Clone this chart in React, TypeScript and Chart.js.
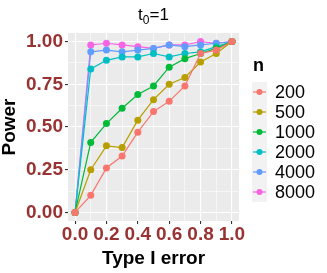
import React, { useEffect, useRef } from "react";
import { Chart, registerables } from "chart.js";

Chart.register(...registerables);

const typeIError = [0, 0.1, 0.2, 0.3, 0.4, 0.5, 0.6, 0.7, 0.8, 0.9, 1.0];
const nLabels = ["200", "500", "1000", "2000", "4000", "8000"];
const power200 = [0, 0.1, 0.26, 0.33, 0.47, 0.59, 0.65, 0.74, 0.93, 0.95, 1];
const power500 = [0, 0.25, 0.39, 0.38, 0.54, 0.66, 0.75, 0.79, 0.88, 0.93, 1];
const power1000 = [0, 0.41, 0.52, 0.61, 0.69, 0.74, 0.85, 0.9, 0.93, 0.96, 1];
const power2000 = [0, 0.84, 0.89, 0.91, 0.91, 0.93, 0.91, 0.93, 0.94, 0.97, 1];
const power4000 = [0, 0.94, 0.95, 0.94, 0.95, 0.96, 0.98, 0.97, 0.98, 0.99, 1];
const power8000 = [0, 0.98, 0.99, 0.98, 0.97, 0.96, 0.98, 0.98, 1.0, 0.99, 1];
const seriesColors = ["#F8766D", "#B79F00", "#00BA38", "#00BFC4", "#619CFF", "#F564E3"];
const allPower = [power200, power500, power1000, power2000, power4000, power8000];

const FONT = "'Liberation Sans', Arial, sans-serif";
const TICK_COLOR = "#993333";

const overlayPlugin = {
  id: "overlay",
  afterDraw(chart: any) {
    const ctx = chart.ctx;
    ctx.save();
    ctx.fillStyle = "#000";
    ctx.textBaseline = "alphabetic";
    ctx.textAlign = "left";
    const cx = (chart.chartArea.left + chart.chartArea.right) / 2;
    ctx.font = `17px ${FONT}`;
    const wT = ctx.measureText("t").width;
    const wEq = ctx.measureText("=1").width;
    ctx.font = `12px ${FONT}`;
    const w0 = ctx.measureText("0").width;
    const total = wT + w0 + wEq;
    let x = cx - total / 2;
    const base = 20;
    ctx.font = `17px ${FONT}`;
    ctx.fillText("t", x, base);
    x += wT;
    ctx.font = `12px ${FONT}`;
    ctx.fillText("0", x, base + 4);
    x += w0;
    ctx.font = `17px ${FONT}`;
    ctx.fillText("=1", x, base);

    const lx = 252;
    const keyW = 15;
    ctx.font = `bold 18px ${FONT}`;
    ctx.fillText("n", lx + 1, 71);
    const top = 82;
    const step = 20;
    ctx.fillStyle = "#F2F2F2";
    ctx.fillRect(lx, top, keyW, step * nLabels.length);
    nLabels.forEach((lab, i) => {
      const cy = top + step * i + step / 2;
      ctx.strokeStyle = seriesColors[i];
      ctx.lineWidth = 1.2;
      ctx.beginPath();
      ctx.moveTo(lx + 1, cy);
      ctx.lineTo(lx + keyW - 1, cy);
      ctx.stroke();
      ctx.fillStyle = seriesColors[i];
      ctx.beginPath();
      ctx.arc(lx + keyW / 2, cy, 3, 0, Math.PI * 2);
      ctx.fill();
      ctx.fillStyle = "#000";
      ctx.font = `18px ${FONT}`;
      ctx.textBaseline = "middle";
      ctx.fillText(lab, 275, cy + 1);
    });
    ctx.restore();
  },
};

export default function App() {
  const ref = useRef<HTMLCanvasElement>(null);
  useEffect(() => {
    if (!ref.current) return;
    const chart = new Chart(ref.current, {
      type: "line",
      data: {
        datasets: nLabels.map((lab, i) => ({
          label: lab,
          data: typeIError.map((t, j) => ({ x: t, y: allPower[i][j] })),
          borderColor: seriesColors[i],
          backgroundColor: seriesColors[i],
          borderWidth: 1.2,
          pointRadius: 3.5,
          pointBorderWidth: 0,
          tension: 0,
        })),
      },
      options: {
        responsive: false,
        animation: false,
        events: [],
        layout: { padding: { left: 0, right: 88, top: 33, bottom: 0 } },
        plugins: {
          legend: { display: false },
          title: { display: false },
          tooltip: { enabled: false },
        },
        scales: {
          x: {
            type: "linear",
            min: -0.045,
            max: 1.045,
            afterBuildTicks: (s: any) => {
              s.ticks = typeIError.map((v) => ({ value: v }));
            },
            afterFit: (s: any) => {
              s.height = 52;
            },
            border: { display: false },
            grid: {
              color: "#FFFFFF",
              lineWidth: (c: any) => (Math.round(c.tick.value * 10) % 2 === 0 ? 1.1 : 0.55),
              tickColor: (c: any) => (Math.round(c.tick.value * 10) % 2 === 0 ? "#333333" : "rgba(0,0,0,0)"),
              tickLength: 3,
              drawTicks: true,
            },
            ticks: {
              autoSkip: false,
              maxRotation: 0,
              padding: 0,
              color: TICK_COLOR,
              font: { family: FONT, size: 19, weight: "bold", lineHeight: 1.1 },
              callback: (v: any) => {
                const k = Math.round(Number(v) * 10);
                return k % 2 === 0 ? (k / 10).toFixed(1) : "";
              },
            },
            title: {
              display: true,
              text: "Type I error",
              color: "#000",
              font: { family: FONT, size: 19, weight: "bold", lineHeight: 1.1 },
              padding: { top: 0, bottom: 4 },
            },
          },
          y: {
            type: "linear",
            min: -0.05,
            max: 1.05,
            afterBuildTicks: (s: any) => {
              const t = [];
              for (let k = 0; k <= 8; k++) t.push({ value: k * 0.125 });
              s.ticks = t;
            },
            afterFit: (s: any) => {
              s.width = 68;
            },
            border: { display: false },
            grid: {
              color: "#FFFFFF",
              lineWidth: (c: any) => (Math.round(c.tick.value * 8) % 2 === 0 ? 1.1 : 0.55),
              tickColor: (c: any) => (Math.round(c.tick.value * 8) % 2 === 0 ? "#333333" : "rgba(0,0,0,0)"),
              tickLength: 3,
            },
            ticks: {
              autoSkip: false,
              padding: 2,
              color: TICK_COLOR,
              font: { family: FONT, size: 19, weight: "bold" },
              callback: (v: any) => {
                const k = Math.round(Number(v) * 8);
                return k % 2 === 0 ? (k / 8).toFixed(2) : "";
              },
            },
            title: {
              display: true,
              text: "Power",
              color: "#000",
              font: { family: FONT, size: 19, weight: "bold", lineHeight: 1 },
              padding: { top: 0, bottom: 0 },
            },
          },
        },
      },
      plugins: [
        {
          id: "panelBg",
          beforeDraw(chart: any) {
            const { ctx, chartArea } = chart;
            ctx.save();
            ctx.fillStyle = "#EBEBEB";
            ctx.fillRect(chartArea.left, chartArea.top, chartArea.right - chartArea.left, chartArea.bottom - chartArea.top);
            ctx.restore();
          },
        },
        overlayPlugin,
      ],
    } as any);
    return () => chart.destroy();
  }, []);
  return (
    <div style={{ position: "absolute", left: 0, top: 0, width: 327, height: 273, background: "#fff" }}>
      <canvas ref={ref} width={327} height={273} style={{ display: "block" }} />
    </div>
  );
}
